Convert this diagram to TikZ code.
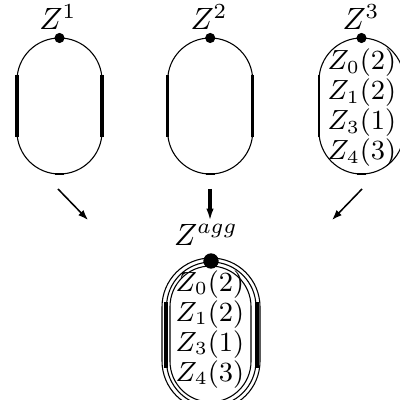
\documentclass[tikz,border=0pt]{standalone}
\usepackage{amsmath}
\usepackage{tikz}
\usetikzlibrary{arrows.meta,positioning}
\tikzset{
  loopa/.style={line width=.35pt, rounded corners=13.8pt},
  bar/.style={line width=1pt},
  vdot/.style={circle, fill=black, inner sep=0pt, minimum size=3.3pt},
  bigdot/.style={vdot, minimum size=5pt},
  lab/.style={anchor=base, inner sep=0pt},
  row/.style={anchor=base, inner sep=0pt, font=\small},
  ar/.style={-{Latex[length=3.3pt,width=2.4pt]}, line width=.5pt},
}

\begin{document}
\begin{tikzpicture}[x=0.325pt, y=-0.325pt]
        \useasboundingbox (0,0) rectangle (400,400);
        % three local pieces
        \draw[loopa] (17,38) rectangle (102,174);
        \draw[loopa] (167.7,38) rectangle (252.7,174);
        \draw[loopa] (319,38) rectangle (404,174);
        \draw[bar] (17,75) -- (17,137);
        \draw[bar] (102,75) -- (102,137);
        \draw[bar] (167.7,75) -- (167.7,137);
        \draw[bar] (252.7,75) -- (252.7,137);
        \draw[line width=.8pt] (319,75) -- (319,137);
        \draw[line width=.8pt] (55,174) -- (64,174);
        \draw[line width=.8pt] (205.7,174) -- (214.7,174);
        \draw[line width=.8pt] (357,174) -- (366,174);
        \node[vdot] (d1) at (59.5,38) {};
        \node[vdot] (d2) at (210.2,38) {};
        \node[vdot] (d3) at (361.5,38) {};
        \node[lab] (z1) at (58,30) {$Z^1$};
        \node[lab] (z2) at (209,30) {$Z^2$};
        \node[lab] (z3) at (361,30) {$Z^3$};
        \node[row] (r30) at (362,70) {$Z_0(2)$};
        \node[row] (r31) at (362,100) {$Z_1(2)$};
        \node[row] (r33) at (362,130) {$Z_3(1)$};
        \node[row] (r34) at (362,160) {$Z_4(3)$};
        % aggregation
        \coordinate (o1) at (58,189);
        \coordinate (o2) at (210,189);
        \coordinate (o3) at (362,189);
        \coordinate (i1) at (88,220);
        \coordinate (i2) at (210,221);
        \coordinate (i3) at (332,220);
        \draw[ar] (o1) -- (i1);
        \draw[-{Latex[length=4pt,width=2.4pt]}, line width=1pt] (o2) -- (i2);
        \draw[ar] (o3) -- (i3);
        \node[lab] (zagg) at (206,245) {$Z^{agg}$};
        \draw[line width=.35pt, rounded corners=15.9pt] (162,258) rectangle (260,410);
        \draw[line width=.35pt, rounded corners=14.6pt] (166.5,262) rectangle (256,406);
        \draw[line width=.35pt, rounded corners=13.2pt] (170,266) rectangle (251,402);
        \draw[line width=1.5pt] (166,302) -- (166,368);
        \draw[line width=1.3pt] (256.5,302) -- (256.5,368);
        \node[bigdot] (dagg) at (211,261) {};
        \node[row] (ra0) at (210,291) {$Z_0(2)$};
        \node[row] (ra1) at (210,321) {$Z_1(2)$};
        \node[row] (ra3) at (210,351) {$Z_3(1)$};
        \node[row] (ra4) at (210,381) {$Z_4(3)$};
      \end{tikzpicture}
\end{document}
